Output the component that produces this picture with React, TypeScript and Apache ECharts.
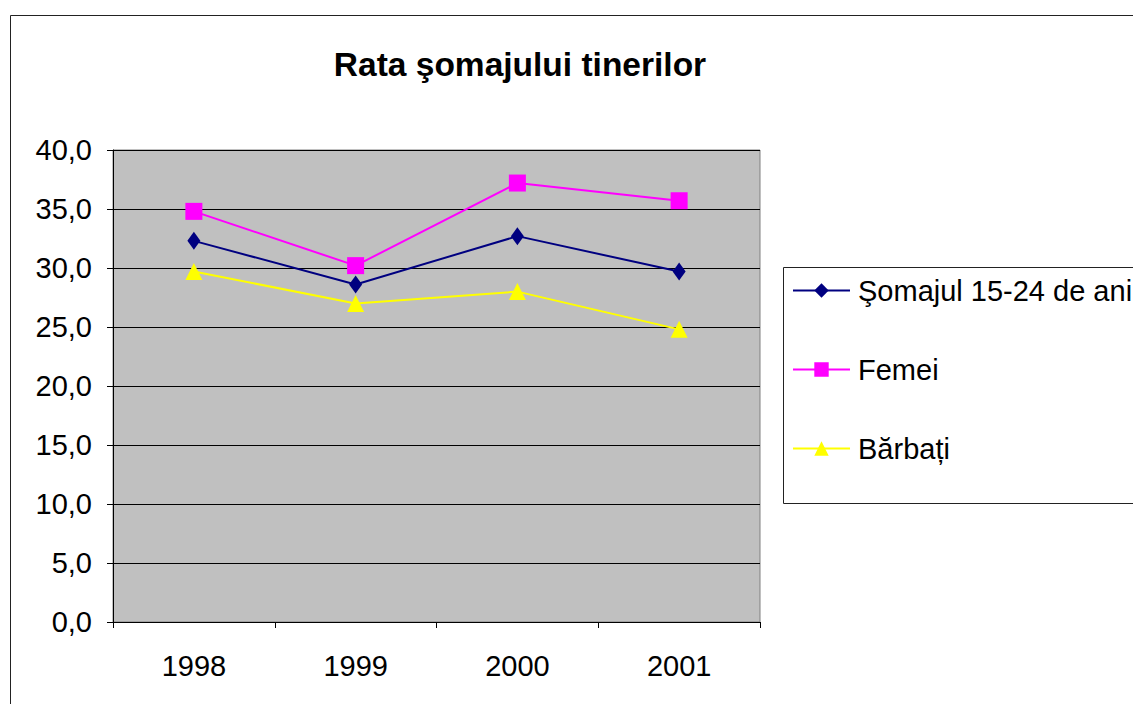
import React, { useEffect, useRef } from "react";
import * as echarts from "echarts";

const categories = ["1998", "1999", "2000", "2001"];
const seriesNames = ["Şomajul 15-24 de ani", "Femei", "Bărbați"];
const somajul = [32.3, 28.6, 32.7, 29.7];
const femei = [34.8, 30.2, 37.2, 35.7];
const barbati = [29.7, 27.0, 28.0, 24.8];
const titleText = "Rata şomajului tinerilor";

const FONT = "'Liberation Sans', Arial, sans-serif";

export default function App() {
  const ref = useRef<HTMLDivElement>(null);
  useEffect(() => {
    if (!ref.current) return;
    const chart = echarts.init(ref.current, null, { renderer: "svg" });
    const mk = (name: string, data: number[], color: string, symbol: string, size: number | number[]) => ({
      name,
      type: "line",
      data,
      symbol,
      symbolSize: size,
      showAllSymbol: true,
      lineStyle: { color, width: 2 },
      itemStyle: { color, borderWidth: 0 },
      emphasis: { disabled: true },
    });
    chart.setOption({
      animation: false,
      backgroundColor: "#ffffff",
      textStyle: { fontFamily: FONT },
      graphic: [
        {
          type: "rect",
          shape: { x: 10.5, y: 15.5, width: 1300, height: 900 },
          style: { fill: "none", stroke: "#222", lineWidth: 1 },
          silent: true,
          z: -10,
        },
        {
          type: "rect",
          shape: { x: 783.5, y: 267.5, width: 500, height: 236 },
          style: { fill: "#fff", stroke: "#222", lineWidth: 1 },
          silent: true,
          z: -5,
        },
        {
          type: "text",
          x: 520,
          y: 64,
          style: {
            text: titleText,
            fontFamily: FONT,
            fontSize: 33.5,
            fontWeight: "bold",
            fill: "#000",
            textAlign: "center",
            textVerticalAlign: "middle",
          },
        },
      ],
      legend: {
        orient: "vertical",
        left: 792,
        top: 276,
        padding: 0,
        itemWidth: 57,
        itemHeight: 18,
        itemGap: 50,
        data: seriesNames,
        textStyle: { fontFamily: FONT, fontSize: 29, color: "#000", lineHeight: 24, padding: [0, 0, 0, 3] },
        selectedMode: false,
      },
      grid: {
        left: 113,
        top: 150,
        width: 647,
        height: 472,
        show: true,
        backgroundColor: "#C0C0C0",
        borderColor: "#808080",
        borderWidth: 1,
      },
      xAxis: {
        type: "category",
        data: categories,
        boundaryGap: true,
        axisLine: { show: true, lineStyle: { color: "#000", width: 1 } },
        axisTick: { show: true, inside: false, length: 6, alignWithLabel: false, lineStyle: { color: "#000" } },
        axisLabel: { fontFamily: FONT, fontSize: 29, color: "#000", margin: 29 },
        splitLine: { show: false },
      },
      yAxis: {
        type: "value",
        min: 0,
        max: 40,
        interval: 5,
        axisLine: { show: true, lineStyle: { color: "#000", width: 1 } },
        axisTick: { show: true, inside: false, length: 6, lineStyle: { color: "#000" } },
        axisLabel: {
          fontFamily: FONT,
          fontSize: 29,
          color: "#000",
          margin: 21,
          formatter: (v: number) => v.toFixed(1).replace(".", ","),
        },
        splitLine: { show: true, lineStyle: { color: "#000", width: 1 } },
      },
      series: [
        mk(seriesNames[0], somajul, "#000080", "diamond", [13, 18]),
        mk(seriesNames[1], femei, "#FF00FF", "rect", 17),
        mk(seriesNames[2], barbati, "#FFFF00", "triangle", 17),
      ],
    });
    return () => chart.dispose();
  }, []);
  return (
    <div
      ref={ref}
      style={{ position: "fixed", left: 0, top: 0, width: 1133, height: 704 }}
    />
  );
}
